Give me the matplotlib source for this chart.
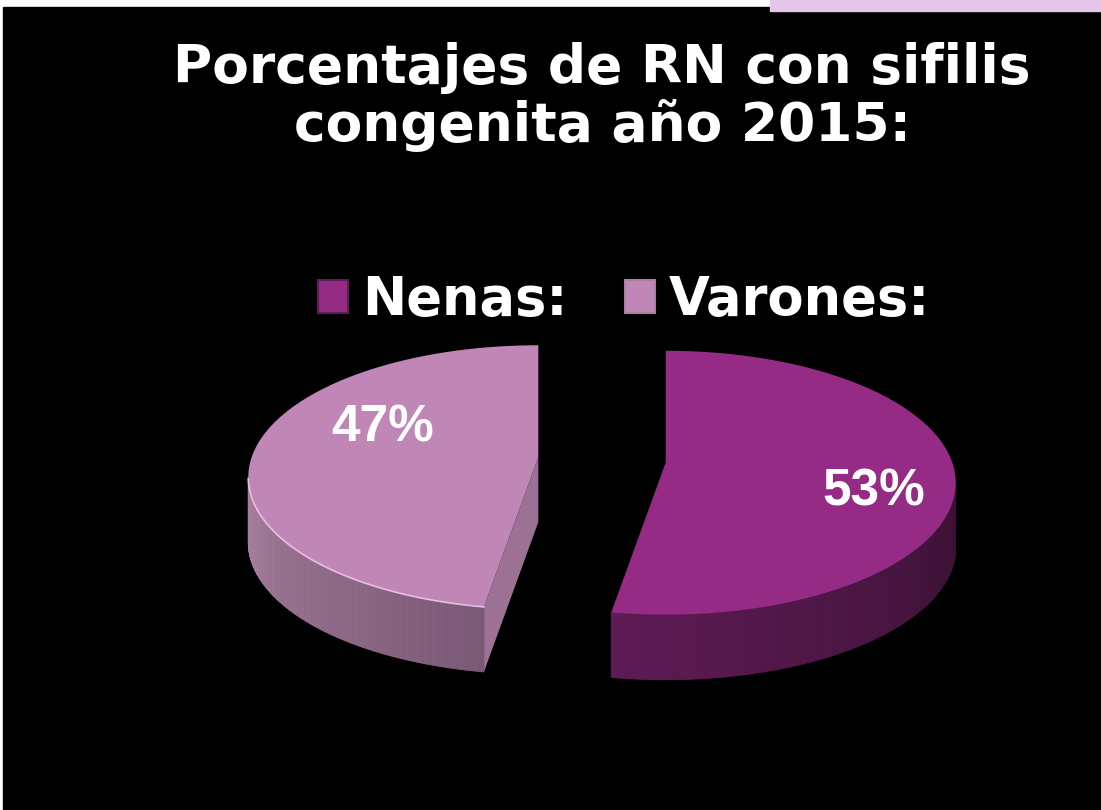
import numpy as np
import matplotlib.pyplot as plt
from matplotlib.patches import Polygon, Rectangle
from matplotlib.colors import to_rgb

# datos
labels = ['Nenas:', 'Varones:']
values = [53, 47]
pct_labels = ['53%', '47%']
title = 'Porcentajes de RN con sifilis\ncongenita año 2015:'

# colores
top_colors = ['#952B85', '#C087B6']
side_light = ['#5E1B55', '#A8819F']
side_dark = ['#3A1233', '#7C5A77']
cut_colors = ['#4A1842', '#9B7294']
rim_colors = [None, '#E8BEE2']

W, H = 1101, 810
fig = plt.figure(figsize=(W / 100, H / 100), dpi=100, facecolor='white')
ax = fig.add_axes([0, 0, 1, 1])
ax.set_xlim(0, W)
ax.set_ylim(H, 0)
ax.axis('off')
ax.add_patch(Rectangle((3, 7), W - 3, H - 7, color='black', zorder=0))
ax.add_patch(Rectangle((770, 0), W - 770, 11, color='#E3C6EA', zorder=0))

# pastel 3d (coordenadas en pixeles)
cx, cy = 602, 480
a, b = 290, 132
lift = 20      # perspectiva: el centro del pastel queda mas arriba
depth = 65
explode = 64


def rim(ox, oy, t):
    return ox + a * np.cos(t), oy - b * np.sin(t)


fracs = np.array(values, dtype=float) / sum(values)
cum = np.concatenate([[0], np.cumsum(fracs)])
for i in range(len(values)):
    t_start = np.radians(90 - 360 * cum[i])
    t_end = np.radians(90 - 360 * cum[i + 1])
    mid = (t_start + t_end) / 2
    ox = cx + explode * np.cos(mid)
    oy = cy - explode * (b / a) * np.sin(mid)
    px, py = ox, oy - lift
    ts = np.linspace(t_end, t_start, 300)
    xs, ys = rim(ox, oy, ts)

    # caras de corte
    for tb in (t_start, t_end):
        rx, ry = rim(ox, oy, tb)
        quad = [(px, py), (rx, ry), (rx, ry + depth), (px, py + depth)]
        ax.add_patch(Polygon(quad, closed=True, fc=cut_colors[i], ec='none', zorder=2))

    # lado exterior con degradado
    front = np.sin(ts) < 0
    fx, fy = xs[front], ys[front]
    n = len(fx)
    c1, c2 = np.array(to_rgb(side_light[i])), np.array(to_rgb(side_dark[i]))
    for k in range(n - 1):
        u = k / max(n - 2, 1)
        col = c1 * (1 - u) + c2 * u
        quad = [(fx[k], fy[k]), (fx[k + 1], fy[k + 1]),
                (fx[k + 1], fy[k + 1] + depth), (fx[k], fy[k] + depth)]
        ax.add_patch(Polygon(quad, closed=True, fc=col, ec=col, lw=0.6, zorder=3))

    # cara superior
    top = [(px, py)] + list(zip(xs, ys))
    ax.add_patch(Polygon(top, closed=True, fc=top_colors[i], ec='none', zorder=4))
    if rim_colors[i]:
        ax.plot(fx, fy, color=rim_colors[i], lw=1.2, zorder=5)

    # etiqueta
    shift = [(0, 0), (52, -40)][i]
    lx = ox + 0.72 * a * np.cos(mid) + shift[0]
    ly = oy - 0.72 * b * np.sin(mid) + shift[1]
    ax.text(lx, ly, pct_labels[i], color='white', fontsize=37, fontweight='bold',
            family='Liberation Sans', ha='center', va='center', zorder=6)

# leyenda
handles = [Rectangle((0, 0), 1, 1, fc=c, ec=side_light[k], lw=1.5) for k, c in enumerate(top_colors)]
leg = ax.legend(handles, labels, loc='center', bbox_to_anchor=(624, 300),
                bbox_transform=ax.transData, ncol=2, frameon=False,
                prop={'family': 'DejaVu Sans', 'weight': 'bold', 'size': 38},
                handlelength=0.57, handleheight=0.57, handletextpad=0.26,
                columnspacing=1.1, borderpad=0)
for t in leg.get_texts():
    t.set_color('white')

ax.text(602, 97, title, color='white', fontsize=38.5, fontweight='bold',
        family='DejaVu Sans', ha='center', va='center', linespacing=1.13)

fig.savefig('out.png', dpi=100, facecolor=fig.get_facecolor())
